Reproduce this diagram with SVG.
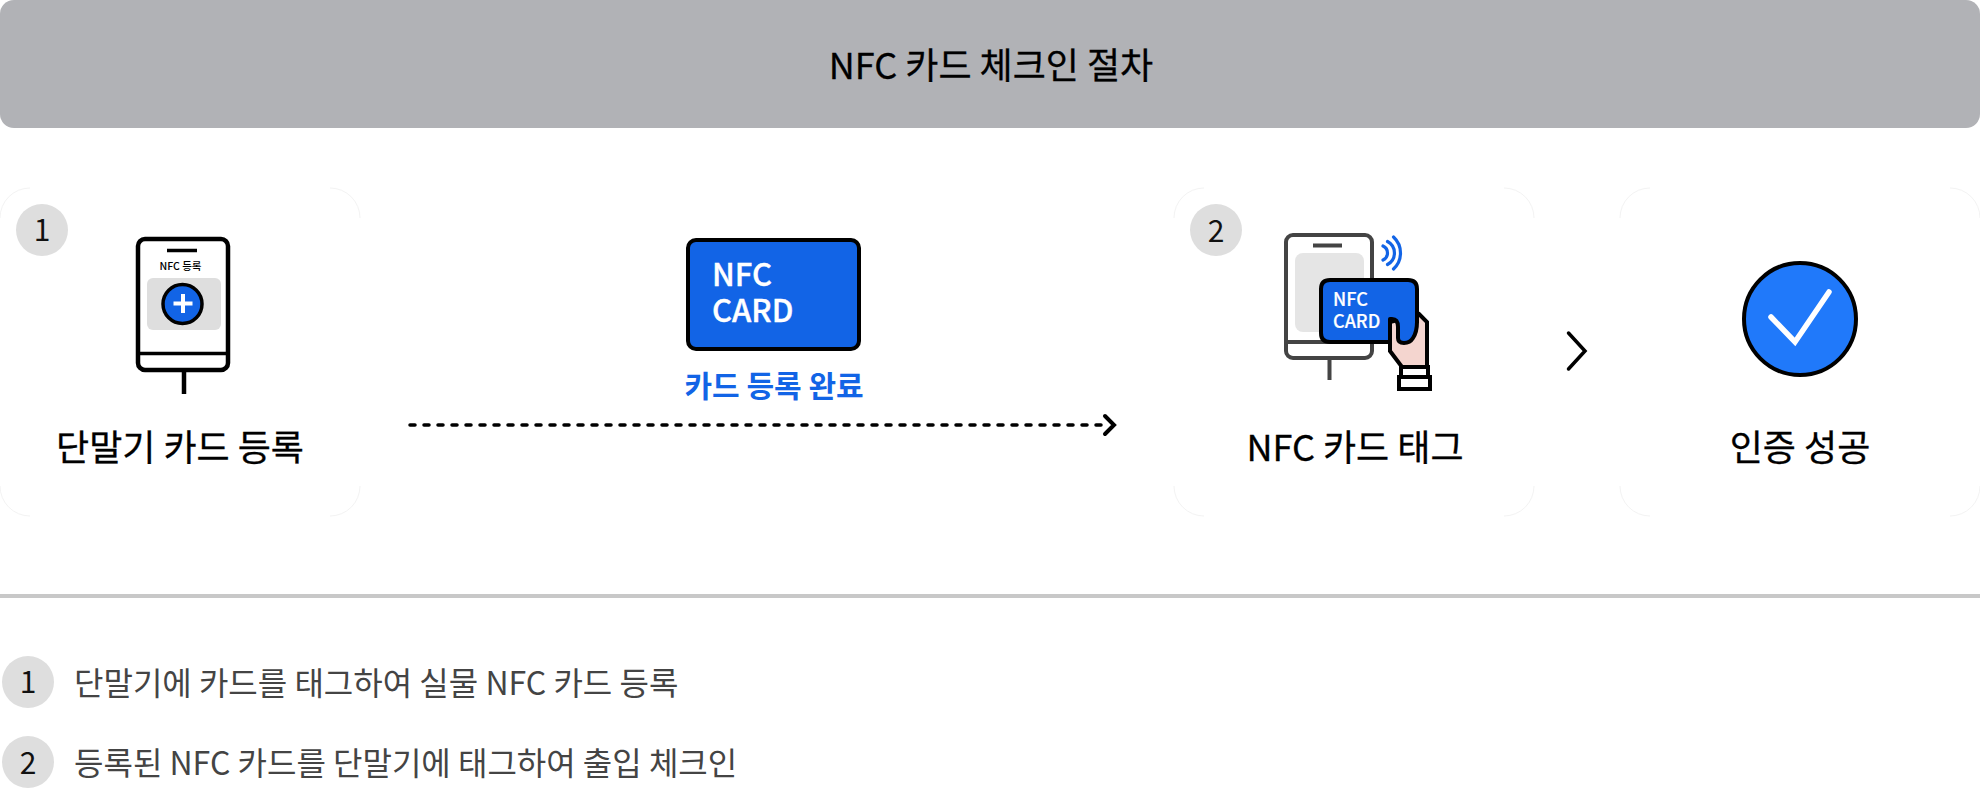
<svg xmlns="http://www.w3.org/2000/svg" width="1980" height="788" viewBox="0 0 1980 788">
<style>
text{font-family:"Noto Sans CJK KR","Noto Sans",sans-serif}
.lbl{font-size:36px;font-weight:400;fill:#000;text-anchor:middle;stroke:#000;stroke-width:.3px}
.num{font-size:30px;font-weight:400;fill:#111;text-anchor:middle}
.badge{fill:#dedede}
.note{font-size:32px;font-weight:400;fill:#444}
.corner{fill:none;stroke:#f3f3f3;stroke-width:1}
.blk{fill:none;stroke:#000;stroke-width:4.500}
.dk{fill:none;stroke:#444;stroke-width:4}
.cw{fill:#fff;font-weight:500;stroke:#fff;stroke-width:.4px}
</style>
<defs>
<path id="corners" class="corner" d="M0 30A30 30 0 0 1 30 0M330 0A30 30 0 0 1 360 30M360 298A30 30 0 0 1 330 328M30 328A30 30 0 0 1 0 298"/>
</defs>
<rect width="1980" height="788" fill="#fff"/>
<g id="banner">
<rect x="0" y="0" width="1980" height="128" rx="14" fill="#b1b2b6"/>
<text class="lbl" x="991" y="79">NFC 카드 체크인 절차</text>
</g>
<g id="step1">
<use href="#corners" x="0" y="188"/>
<circle class="badge" cx="42" cy="230" r="26"/>
<text class="num" x="42" y="241">1</text>
<rect class="blk" x="138" y="239" width="90" height="131" rx="7"/>
<path class="blk" d="M167 250.500H197M138 353.500H227" style="stroke-width:3.500"/>
<text x="180.500" y="270" style="font-size:10.500px;font-weight:500;fill:#000;text-anchor:middle">NFC 등록</text>
<rect class="badge" x="147" y="278" width="74" height="52" rx="6"/>
<circle cx="182.500" cy="304" r="19.500" fill="#1264e6" stroke="#000" stroke-width="3.500"/>
<path d="M173.500 303.500H192.500M183 294V313" fill="none" stroke="#fff" stroke-width="4"/>
<path class="blk" d="M184 372V394"/>
<text class="lbl" x="180" y="461">단말기 카드 등록</text>
</g>
<g id="nfc-card">
<rect x="688" y="240" width="171" height="109" rx="8" fill="#1264e6" stroke="#000" stroke-width="4"/>
<text class="cw" style="font-size:31px"><tspan x="712" y="286">NFC</tspan><tspan x="712" y="322">CARD</tspan></text>
<text x="774" y="397" style="font-size:30px;font-weight:700;fill:#1264e6;text-anchor:middle">카드 등록 완료</text>
</g>
<g id="step2">
<use href="#corners" x="1174" y="188"/>
<circle class="badge" cx="1216" cy="230" r="26"/>
<text class="num" x="1216" y="242">2</text>
<rect class="dk" x="1286" y="235" width="86" height="123" rx="7"/>
<path class="dk" d="M1313 245.500H1342M1286 342H1372M1329.500 359V380"/>
<rect x="1295" y="253" width="69" height="79" rx="8" fill="#e5e5e5"/>
<path d="M1383 246a7.700 7.700 0 0 1 0 14M1387.500 241.500a13 13 0 0 1 0 23M1393.500 237a21.800 21.800 0 0 1 0 32" fill="none" stroke="#1264e6" stroke-width="3.200" stroke-linecap="round"/>
<path d="M1419 314L1427 322V367H1402L1390 351V322Z" fill="#f4d5cf" stroke="#000" stroke-width="4"/>
<path d="M1330 280H1408Q1417 280 1417 289V322Q1417 332 1413 338Q1410 343 1404 343Q1398 343 1398 338V327Q1398 319 1392 319H1390V342H1330Q1321 342 1321 333V289Q1321 280 1330 280Z" fill="#1264e6" stroke="#000" stroke-width="4" stroke-linejoin="round"/>
<text class="cw" style="font-size:18px;stroke-width:.2px"><tspan x="1333" y="306">NFC</tspan><tspan x="1333" y="328">CARD</tspan></text>
<rect x="1401" y="367" width="27" height="10" fill="#fff" stroke="#000" stroke-width="4"/>
<rect x="1399" y="377" width="31" height="12" fill="#fff" stroke="#000" stroke-width="4"/>
<text class="lbl" x="1355" y="461">NFC 카드 태그</text>
</g>
<g id="step3">
<use href="#corners" x="1620" y="188"/>
<circle cx="1800" cy="319" r="56" fill="#2079fa" stroke="#000" stroke-width="4"/>
<path d="M1771 317L1795 342L1829 292" fill="none" stroke="#fff" stroke-width="5.500" stroke-linecap="round"/>
<text class="lbl" x="1800" y="461">인증 성공</text>
</g>
<g id="connectors" fill="none" stroke="#000" stroke-linecap="round">
<path d="M410 425H1108" stroke-width="3.500" stroke-dasharray="5 9"/>
<path d="M1105 416L1114 425L1105 434" stroke-width="4"/>
<path d="M1568.500 333L1585 351L1568.500 369" stroke-width="3.500"/>
</g>
<path id="divider" d="M0 596H1980" stroke="#c8c8c8" stroke-width="4"/>
<g id="note1">
<circle class="badge" cx="28" cy="682" r="26"/>
<text class="num" x="28" y="693">1</text>
<text class="note" x="74" y="695">단말기에 카드를 태그하여 실물 NFC 카드 등록</text>
</g>
<g id="note2">
<circle class="badge" cx="28" cy="762" r="26"/>
<text class="num" x="28" y="774">2</text>
<text class="note" x="74" y="775">등록된 NFC 카드를 단말기에 태그하여 출입 체크인</text>
</g>
</svg>
